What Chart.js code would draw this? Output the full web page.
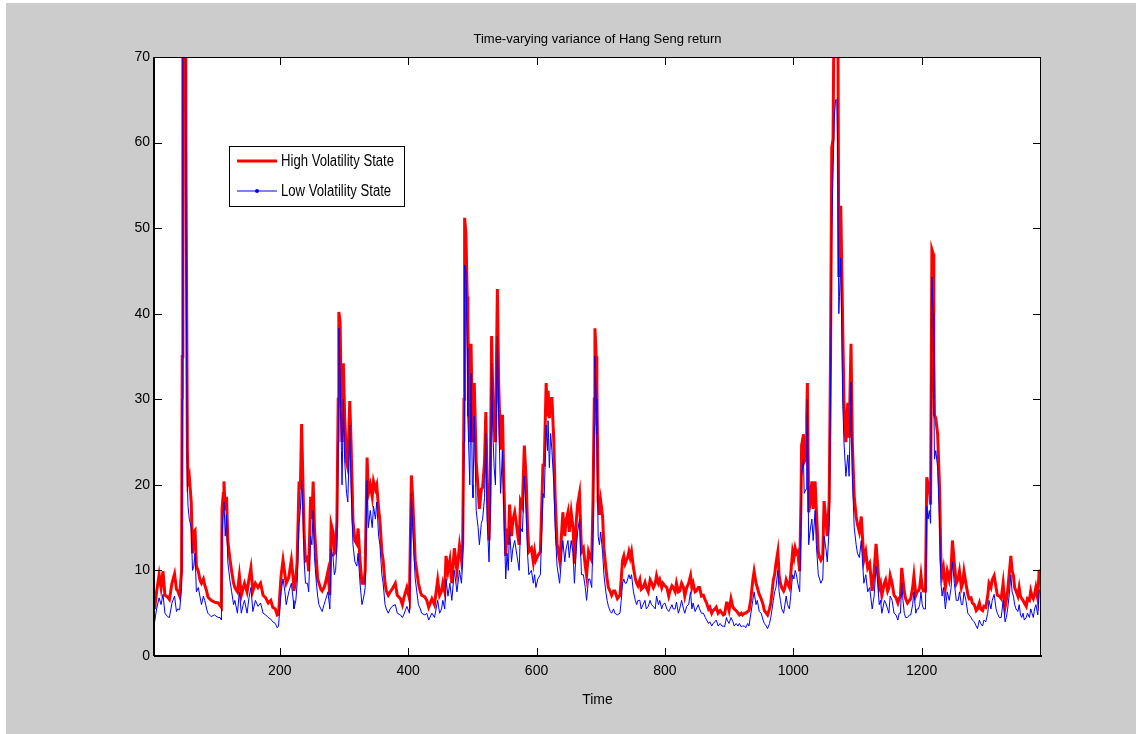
<!DOCTYPE html>
<html>
<head>
<meta charset="utf-8">
<script src="https://cdn.jsdelivr.net/npm/chart.js@4.4.1/dist/chart.umd.min.js"></script>
<style>
  html, body { margin: 0; padding: 0; background: #fff; }
</style>
</head>
<body>
<canvas id="chart" width="1136" height="734"></canvas>
<script>
// time index of each reading
const time = [
  5,8,12,15,18,21,25,28,32,36,
  39,41,44,47,48,49,51,53,54,56,57,59,
  62,64,66,68,70,73,76,78,81,83,
  86,88,93,98,104,107,109,110,112,113,
  115,117,119,122,125,128,130,134,137,140,
  143,145,149,152,155,158,162,166,170,174,
  178,182,186,189,193,196,198,202,205,208,
  210,214,218,221,
  222,225,227,230,232,234,236,238,240,243,
  245,248,250,252,254,257,259,261,264,266,
  269,271,275,278,280,283,285,287,289,291,
  292,294,296,297,299,301,304,306,309,311,
  314,317,320,322,325,328,331,333,336,338,
  341,344,346,349,351,354,356,359,361,364,
  366,369,372,375,380,383,388,391,393,398,
  402,405,407,411,416,419,421,426,429,432,
  437,441,446,
  449,452,454,457,459,462,465,468,472,476,
  480,483,485,487,488,490,492,493,496,498,
  500,501,503,506,509,511,514,516,519,521,
  523,526,528,530,532,534,536,539,541,544,
  547,549,552,554,556,558,561,563,566,568,
  571,573,575,578,581,584,586,588,592,595,
  597,599,602,606,610,612,615,617,618,620,
  622,624,627,629,632,636,638,641,644,646,
  649,651,654,657,659,662,664,667,
  670,673,676,678,681,683,686,688,690,691,
  693,694,696,698,700,703,705,708,710,712,
  715,717,720,722,726,730,732,734,736,738,
  740,742,744,746,748,751,754,756,758,761,
  763,766,769,771,774,777,779,782,785,787,
  790,792,795,797,800,803,806,808,811,813,
  816,818,821,823,826,829,831,834,837,840,
  842,844,847,849,852,854,857,860,863,865,
  868,870,873,875,878,880,883,886,889,891,
  893,896,
  897,900,903,906,908,911,914,916,919,921,
  924,926,929,931,934,937,939,942,944,947,
  950,953,955,958,960,963,965,967,969,971,
  973,976,978,980,982,985,987,989,991,994,
  996,999,1001,1003,1005,1007,1010,1012,1013,1016,
  1017,1020,1021,1022,1024,1026,1029,1031,1034,1036,
  1039,1041,1043,1046,1048,1051,1053,1056,1058,1060,
  1062,1064,1066,1068,1069,1071,1072,1074,1077,1079,
  1082,1085,1087,1090,1092,1095,1098,1100,1103,1106,
  1110,1113,1116,1119,
  1123,1126,1129,1131,1134,1136,1138,1142,1144,1147,
  1149,1151,1154,1157,1160,1163,1165,1167,1169,1171,
  1173,1175,1178,1181,1183,1186,1188,1191,1193,1195,
  1197,1199,1201,1203,1206,1208,1210,1212,1214,1216,
  1218,1219,1220,1222,1225,1228,1230,1232,1234,1237,
  1240,1243,1246,1248,1251,1254,1257,1259,1262,1264,
  1266,1269,1272,1274,1277,1279,1282,1285,1287,1290,
  1292,1295,1297,1300,1303,1305,1308,1310,1313,1316,
  1318,1321,1324,1327,1330,1332,1334,1337,1339,1341,
  1343,1345,1347,1350,1352,1354,1356,1358,1360,1363,
  1365,1368,1370,1372,1374,1376,1378,1381,1383,1385
];

// variance in the high volatility state
const highVol = [
  5.5,7.5,9.5,8.0,9.9,7.1,6.9,6.6,8.5,9.6,
  7.8,7.6,7.0,10.0,35,75,95,85,55,24,20.4,21.0,
  18,12,14.5,14.7,10.5,9.9,8.8,8.5,9.0,8.3,
  7.6,6.9,6.5,6.3,6.2,5.9,5.7,17.2,19.0,20.4,
  17.0,18.6,13.5,11.5,9.9,8.5,8.0,7.5,9.4,7.1,
  8.0,8.5,7.5,9.0,10.3,7.6,8.5,8.0,8.5,7.1,
  6.8,6.2,6.5,5.7,5.5,4.8,4.9,9.4,11.2,9.5,
  8.5,9.2,11.2,9.0,
  7.6,9.0,11.0,20.4,19.5,27.1,20.4,14.0,11.2,11.5,
  9.9,18.6,16.0,20.4,14.9,11.2,9.0,8.5,7.8,7.6,
  8.0,8.5,9.9,7.1,15.4,14.5,12.0,12.2,15.8,30.0,
  40.2,39.0,28.2,25.0,34.2,28.2,22.7,22.0,29.8,25.0,
  15.8,13.5,13.1,14.9,11.2,8.5,8.5,10.0,23.2,19.0,
  20.0,18.6,20.4,19.5,20.0,17.2,15.8,12.2,11.2,8.5,
  7.6,7.1,7.5,7.8,8.5,7.1,6.7,6.0,6.7,8.0,
  6.7,21.1,18.6,11.2,8.5,7.5,7.1,6.9,6.5,5.7,
  6.7,6.0,8.9,
  7.1,7.6,8.5,7.5,11.7,9.9,11.2,8.5,12.6,9.9,
  12.9,11.2,13.1,30.0,51.2,49.3,42.0,38.8,25.0,36.5,
  26.0,25.0,31.9,22.7,19.5,17.2,19.5,19.7,22.7,28.5,
  20.4,13.5,20.4,37.4,30.0,26.9,25.0,42.9,31.9,24.1,
  28.2,20.4,11.7,14.9,13.0,17.7,14.0,15.8,16.8,15.8,
  14.0,13.0,18.1,17.5,24.6,20.4,15.0,12.2,12.6,11.0,
  12.2,11.2,11.7,12.2,22.3,22.3,31.9,28.0,31.0,27.8,
  30.1,30.1,25.0,18.6,13.1,11.2,13.0,16.8,14.0,15.8,
  16.8,14.5,16.8,14.9,10.8,15.8,17.7,19.0,
  12.2,12.6,10.5,9.4,12.2,11.7,11.2,18.1,30.0,38.3,
  35.0,31.9,18.1,16.5,18.1,16.3,12.6,10.3,9.0,8.0,
  7.5,7.1,7.6,7.6,6.7,7.1,9.0,11.2,11.7,10.8,
  11.2,11.5,12.2,11.5,12.2,10.3,9.0,8.5,8.2,8.9,
  7.8,8.0,8.6,8.0,7.5,8.9,8.6,8.0,8.5,9.4,
  8.5,8.9,8.0,8.5,8.2,8.0,7.0,7.6,8.2,8.0,
  7.5,8.5,7.5,7.6,8.5,8.0,7.0,8.0,8.5,9.4,
  8.0,8.5,7.5,7.6,8.0,8.0,7.0,7.1,6.5,6.2,
  5.5,5.7,5.0,5.3,5.5,5.7,5.0,5.3,5.0,4.8,
  4.9,6.2,
  6.2,5.3,6.7,5.7,5.5,5.3,5.0,4.8,5.0,4.8,
  5.0,5.0,5.2,5.3,6.7,8.9,9.9,8.5,8.0,7.2,
  6.7,6.0,5.3,5.0,4.8,5.5,6.2,7.5,8.9,9.5,
  10.8,12.2,9.4,8.5,8.0,7.6,8.0,8.9,8.5,8.0,
  9.5,12.2,11.5,12.6,12.0,12.2,9.9,18.0,24.6,25.9,
  22.7,23.2,28.0,31.9,16.8,17.7,20.4,17.2,20.4,17.0,
  12.2,11.5,11.2,11.7,18.1,15.8,14.0,18.1,34.2,59.4,
  60.4,80.0,75.0,90.0,85.0,44.3,48.0,52.6,38.8,29.6,
  25.0,29.6,25.5,36.5,25.0,18.6,16.3,15.4,14.5,16.3,
  11.2,12.2,10.3,10.8,
  7.6,9.9,13.1,11.2,8.0,8.5,7.1,8.5,8.9,7.6,
  8.0,9.4,8.5,7.1,6.8,6.2,6.7,7.0,10.3,8.9,
  7.5,6.7,6.2,6.5,6.7,8.0,9.4,7.1,7.5,7.6,
  8.0,9.4,8.0,7.6,7.6,20.9,20.0,19.5,17.7,47.5,
  47.0,35.0,28.2,27.8,25.9,19.5,11.2,9.5,10.3,8.0,
  9.9,8.9,10.3,13.5,10.8,8.5,9.0,9.9,8.0,8.5,
  9.9,8.5,7.2,6.7,6.8,6.2,6.0,5.3,5.5,6.2,
  5.5,5.3,5.8,5.7,7.0,8.5,8.0,8.9,9.4,8.0,
  7.1,7.0,6.7,8.5,5.7,6.5,7.6,10.0,11.7,10.0,
  9.4,8.0,7.6,7.0,8.0,7.0,6.7,6.5,6.2,5.8,
  6.7,6.5,7.6,7.0,6.7,7.2,8.0,6.7,9.9,10.0
];

// variance in the low volatility state
const lowVol = [
  4.0,5.5,6.8,6.0,7.2,5.0,4.6,4.5,6.2,7.0,
  5.2,5.5,5.4,8.0,30,70,88,80,48,20,17.5,16.0,
  15,10,10.5,12.0,7.5,8.0,6.8,6.0,7.0,6.5,
  5.5,5.0,4.6,4.8,4.5,4.5,4.2,14.5,17.0,18.0,
  14.0,16.5,11.0,9.0,7.5,6.0,6.5,5.0,7.5,5.0,
  6.0,6.5,5.0,6.8,8.0,5.2,6.5,5.8,6.2,5.0,
  4.8,4.5,4.3,4.0,3.8,3.3,3.5,7.5,9.0,7.5,
  6.0,7.5,8.5,6.5,
  5.5,6.5,8.5,15.5,17.0,20.5,17.0,11.0,8.5,8.5,
  7.5,14.0,13.0,17.0,11.5,8.5,7.0,6.0,5.5,5.2,
  6.0,6.5,7.5,5.5,12.5,11.5,9.5,10.0,13.0,25.0,
  38.3,33.0,24.0,20.0,30.0,23.0,19.0,18.0,27.0,20.0,
  13.0,11.0,10.5,12.0,8.5,6.0,7.0,8.0,20.5,15.0,
  17.0,15.0,17.5,16.0,18.0,14.0,13.0,9.5,8.5,6.0,
  5.5,5.0,5.5,5.8,6.0,5.0,4.8,4.5,4.8,5.8,
  5.0,19.0,15.0,9.0,6.0,5.5,5.0,4.8,5.0,4.2,
  5.0,4.5,6.5,
  5.0,5.5,6.5,5.5,9.0,7.0,8.5,6.5,10.0,7.5,
  10.0,8.5,11.0,25.0,45.7,45.0,36.0,28.0,20.0,33.0,
  20.0,18.5,28.0,17.0,15.0,13.0,15.5,16.0,18.5,26.0,
  16.0,11.0,17.0,34.2,26.0,22.0,20.0,37.4,28.0,19.0,
  24.0,17.0,9.0,12.0,10.0,15.0,11.0,12.5,13.5,12.5,
  11.0,10.0,15.0,14.5,21.0,16.5,12.0,9.5,10.0,8.5,
  9.5,8.0,9.0,9.5,19.0,18.5,27.0,24.0,27.5,22.0,
  26.0,24.0,20.0,15.0,10.5,8.5,10.5,13.5,11.0,12.5,
  13.5,11.5,13.5,12.0,8.5,12.5,14.5,16.0,
  9.5,9.5,8.0,6.5,9.0,9.0,8.0,14.0,27.0,35.0,
  30.0,26.0,14.0,13.0,14.5,12.0,9.5,7.5,6.5,5.8,
  5.2,5.0,5.5,5.0,4.8,5.0,6.5,8.5,9.0,8.5,
  8.5,9.0,9.5,9.0,9.5,7.5,6.5,6.0,6.5,6.5,
  5.5,6.0,6.5,5.5,5.8,6.5,6.0,5.8,5.5,7.0,
  6.0,6.5,5.5,6.0,6.2,5.5,5.2,5.5,6.0,5.5,
  5.5,6.3,5.0,5.5,6.5,5.5,5.0,5.8,6.0,7.5,
  5.5,6.2,5.2,5.5,6.0,5.5,5.0,5.0,4.5,4.2,
  3.8,4.0,3.5,3.8,4.0,4.2,3.5,3.8,3.5,3.5,
  3.4,4.5,
  4.2,3.8,4.5,4.0,3.5,3.8,3.5,3.8,3.4,3.5,
  3.5,3.3,3.8,3.5,5.0,6.5,7.5,6.0,6.5,5.2,
  5.0,4.2,3.8,3.5,3.2,3.8,4.5,5.5,6.5,7.5,
  8.0,10.0,7.5,6.5,5.5,5.0,6.0,7.0,6.0,5.5,
  7.0,9.5,9.0,10.0,9.5,8.5,7.5,15.0,21.0,23.0,
  19.0,19.5,26.0,30.0,13.0,14.5,16.0,13.5,17.0,13.0,
  9.5,9.0,8.5,9.0,14.0,12.5,11.0,15.0,30.0,50.0,
  56.5,63.0,65.0,65.0,60.0,40.0,42.0,46.5,30.0,25.0,
  21.0,23.5,21.0,32.0,21.0,15.0,13.0,12.0,11.5,13.5,
  8.5,9.5,7.5,8.0,
  5.5,7.0,10.5,9.0,6.0,6.5,5.0,6.5,6.2,5.5,
  5.0,7.0,6.5,5.0,4.8,4.2,5.0,5.0,8.5,6.5,
  5.0,4.5,4.5,4.8,4.8,6.0,7.5,5.0,5.5,5.5,
  6.0,7.5,6.0,5.5,5.5,17.5,16.0,17.0,15.5,44.3,
  40.0,30.0,23.0,24.0,22.0,15.5,8.5,7.0,8.0,5.5,
  7.5,6.5,8.0,11.0,8.5,6.5,6.5,7.5,6.0,6.0,
  7.5,6.5,5.0,4.8,4.5,4.2,4.0,3.5,3.2,4.2,
  3.8,3.5,4.2,4.0,5.0,6.5,5.5,6.5,7.2,5.5,
  5.0,4.5,4.5,6.5,4.0,4.5,5.5,7.5,9.5,7.5,
  7.0,6.0,5.5,5.2,6.0,4.8,4.5,5.0,4.2,4.5,
  5.0,4.5,5.5,5.0,4.5,5.5,6.0,4.8,7.5,7.8
];

const xTicks = [200, 400, 600, 800, 1000, 1200];
const yTicks = [0, 10, 20, 30, 40, 50, 60, 70];

const FONT = "'Liberation Sans', Arial, Helvetica, sans-serif";

function pts(vals) {
  const n = Math.min(time.length, vals.length);
  const out = [];
  for (let i = 0; i < n; i++) out.push({x: time[i], y: vals[i]});
  return out;
}

// matlab-ish figure: gray background, boxed axes, ticks pointing inward
const frame = {
  id: 'frame',
  beforeDraw(chart) {
    const {ctx, width, height, chartArea: a} = chart;
    ctx.save();
    ctx.fillStyle = '#ffffff';
    ctx.fillRect(0, 0, width, height);
    ctx.fillStyle = '#cccccc';
    ctx.fillRect(6, 3, width - 6, height - 3);
    ctx.fillStyle = '#ffffff';
    ctx.fillRect(a.left, a.top, a.right - a.left, a.bottom - a.top);
    ctx.restore();
  },
  afterDatasetsDraw(chart) {
    const {ctx, chartArea: a, scales} = chart;
    const L = 8;
    ctx.save();
    ctx.strokeStyle = '#000';
    ctx.lineWidth = 1;
    ctx.beginPath();
    scales.x.ticks.forEach(t => {
      const px = Math.round(scales.x.getPixelForValue(t.value)) + 0.5;
      ctx.moveTo(px, a.bottom); ctx.lineTo(px, a.bottom - L);
      ctx.moveTo(px, a.top); ctx.lineTo(px, a.top + L);
    });
    scales.y.ticks.forEach(t => {
      const py = Math.round(scales.y.getPixelForValue(t.value)) + 0.5;
      ctx.moveTo(a.left, py); ctx.lineTo(a.left + L, py);
      ctx.moveTo(a.right, py); ctx.lineTo(a.right - L, py);
    });
    ctx.stroke();
    ctx.strokeRect(a.left + 0.5, a.top + 0.5, a.right - a.left - 1, a.bottom - a.top - 1);
    ctx.lineWidth = 2;
    ctx.beginPath();
    ctx.moveTo(a.left, a.bottom); ctx.lineTo(a.right + 1, a.bottom);
    ctx.moveTo(a.left, a.top); ctx.lineTo(a.left, a.bottom);
    ctx.stroke();
    ctx.restore();
  }
};

// boxed legend in the upper left of the axes
const boxLegend = {
  id: 'boxLegend',
  afterDraw(chart) {
    const {ctx} = chart;
    const ds = chart.data.datasets;
    const bx = 229, by = 146, bw = 175, bh = 60;
    ctx.save();
    ctx.fillStyle = '#fff';
    ctx.fillRect(bx, by, bw, bh);
    ctx.strokeStyle = '#000';
    ctx.lineWidth = 1;
    ctx.strokeRect(bx + 0.5, by + 0.5, bw, bh);
    const rows = [ds[1], ds[0]];
    rows.forEach((d, i) => {
      const yy = by + 15 + i * 30;
      ctx.strokeStyle = d.borderColor;
      ctx.lineWidth = d.borderWidth;
      ctx.beginPath();
      ctx.moveTo(bx + 8, yy); ctx.lineTo(bx + 48, yy);
      ctx.stroke();
      if (d.legendDot) {
        ctx.fillStyle = d.borderColor;
        ctx.beginPath();
        ctx.arc(bx + 28, yy, 2, 0, Math.PI * 2);
        ctx.fill();
      }
      // narrow the label to match the condensed look of the figure
      ctx.save();
      ctx.translate(bx + 52, yy + 1);
      ctx.scale(0.82, 1);
      ctx.font = '16px ' + FONT;
      ctx.textBaseline = 'middle';
      ctx.fillStyle = '#000';
      ctx.fillText(d.label, 0, 0);
      ctx.restore();
    });
    ctx.restore();
  }
};

new Chart(document.getElementById('chart'), {
  type: 'line',
  data: {
    datasets: [
      {
        label: 'Low Volatility State',
        data: pts(lowVol),
        borderColor: '#0000ff',
        borderWidth: 1,
        pointRadius: 0,
        tension: 0,
        legendDot: true,
        order: 0
      },
      {
        label: 'High Volatility State',
        data: pts(highVol),
        borderColor: '#ff0000',
        borderWidth: 3,
        pointRadius: 0,
        tension: 0,
        order: 1
      }
    ]
  },
  options: {
    responsive: false,
    animation: false,
    devicePixelRatio: 1,
    events: [],
    clip: 0,
    layout: { padding: { left: 0, right: 95, top: 0, bottom: 0 } },
    plugins: {
      legend: { display: false },
      tooltip: { enabled: false },
      title: {
        display: true,
        fullSize: false,
        text: 'Time-varying variance of Hang Seng return',
        color: '#000',
        font: { family: FONT, size: 13, weight: 'normal' },
        padding: { top: 32, bottom: 9.4 }
      }
    },
    scales: {
      x: {
        type: 'linear',
        min: 4,
        max: 1386,
        afterBuildTicks: s => { s.ticks = xTicks.map(v => ({value: v})); },
        afterFit: s => { s.height = 78; },
        grid: { display: false, drawTicks: false },
        border: { display: false },
        ticks: {
          color: '#000',
          font: { family: FONT, size: 14 },
          padding: 7,
          maxRotation: 0,
          autoSkip: false,
          callback: v => String(v)
        },
        title: {
          display: true,
          text: 'Time',
          color: '#000',
          font: { family: FONT, size: 14 },
          padding: { top: 0, bottom: 25 }
        }
      },
      y: {
        min: 0,
        max: 70,
        afterBuildTicks: s => { s.ticks = yTicks.map(v => ({value: v})); },
        afterFit: s => { s.width = 154; },
        grid: { display: false, drawTicks: false },
        border: { display: false },
        ticks: {
          color: '#000',
          font: { family: FONT, size: 14 },
          padding: 4,
          callback: v => String(v)
        }
      }
    }
  },
  plugins: [frame, boxLegend]
});
</script>
</body>
</html>
